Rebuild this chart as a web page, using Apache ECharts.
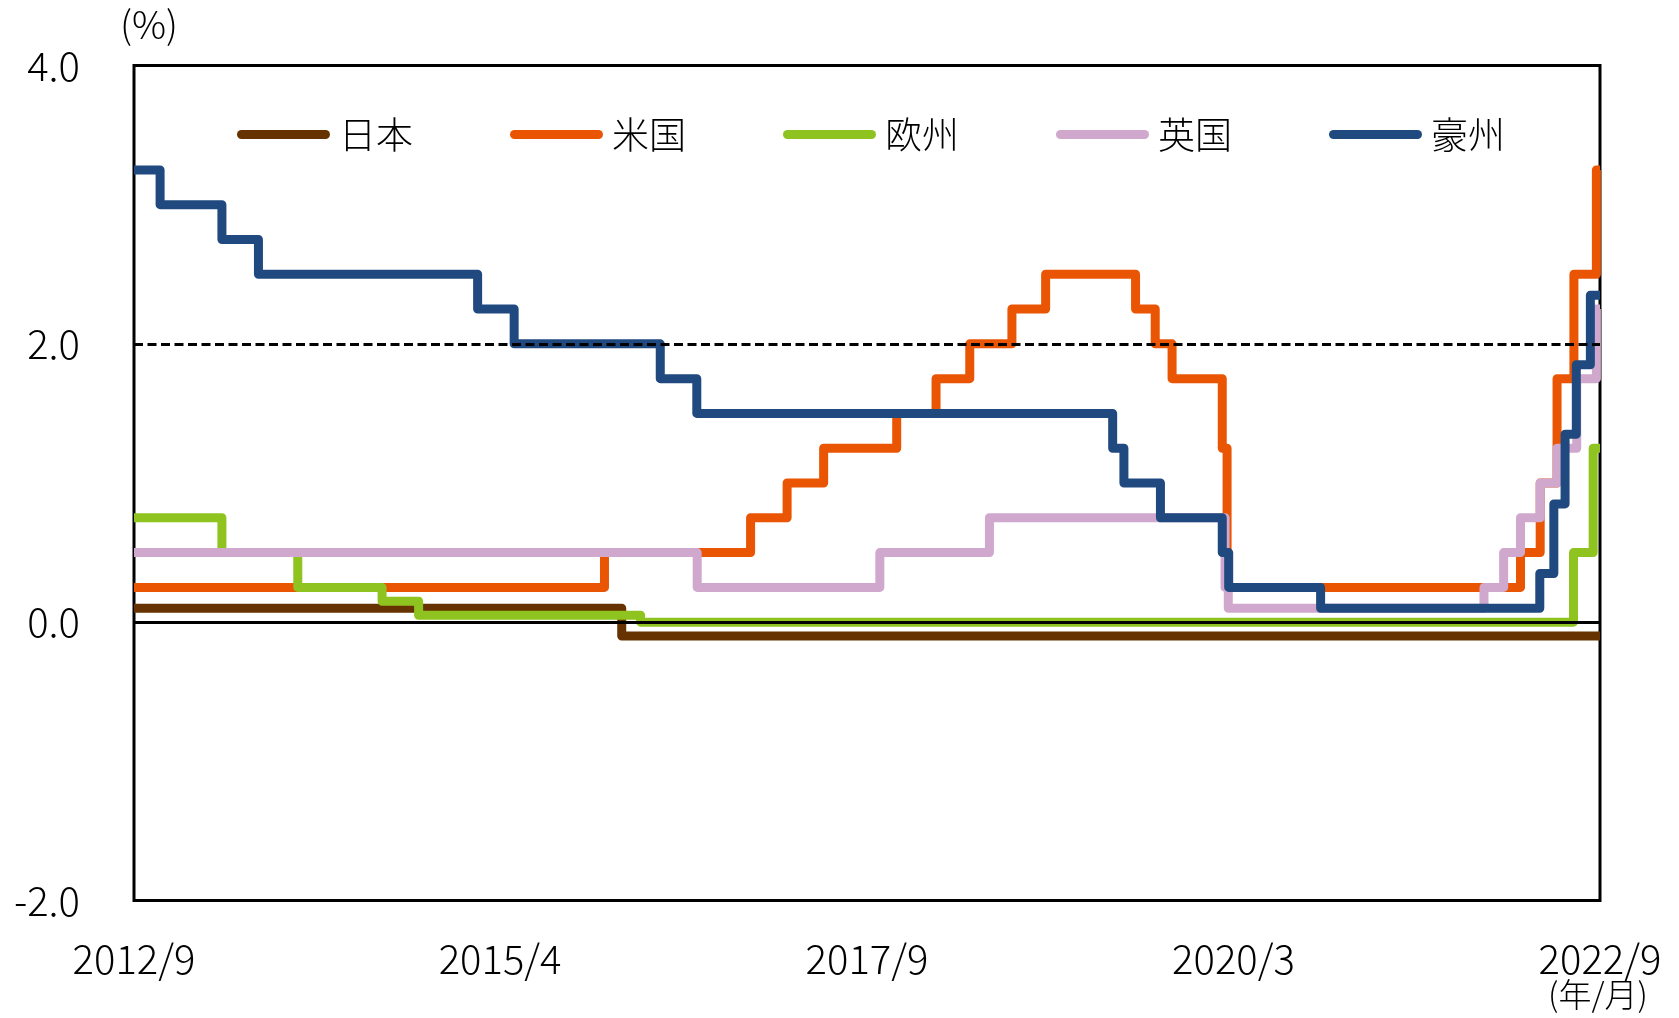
<!DOCTYPE html>
<html>
<head>
<meta charset="utf-8">
<script src="https://cdn.jsdelivr.net/npm/echarts@6/dist/echarts.min.js"></script>
<style>
  html, body { margin: 0; padding: 0; background: #fff; }
  #chart { width: 1679px; height: 1018px; }
</style>
</head>
<body>
<div id="chart"></div>
<script>
// Policy rates (%), each list holds [date the rate took effect, rate]
const JAPAN = [["2012-10-01", 0.1], ["2016-01-29", -0.1], ["2022-10-01", -0.1]];
const USA = [["2012-10-01", 0.25], ["2015-12-17", 0.5], ["2016-12-15", 0.75], ["2017-03-16", 1.0],
  ["2017-06-15", 1.25], ["2017-12-14", 1.5], ["2018-03-22", 1.75], ["2018-06-14", 2.0],
  ["2018-09-27", 2.25], ["2018-12-20", 2.5], ["2019-08-01", 2.25], ["2019-09-19", 2.0],
  ["2019-10-31", 1.75], ["2020-03-04", 1.25], ["2020-03-16", 0.25], ["2022-03-17", 0.5],
  ["2022-05-05", 1.0], ["2022-06-16", 1.75], ["2022-07-28", 2.5], ["2022-09-22", 3.25],
  ["2022-10-01", 3.25]];
const EURO = [["2012-10-01", 0.75], ["2013-05-08", 0.5], ["2013-11-13", 0.25], ["2014-06-11", 0.15],
  ["2014-09-10", 0.05], ["2016-03-16", 0.0], ["2022-07-27", 0.5], ["2022-09-14", 1.25],
  ["2022-10-01", 1.25]];
const UK = [["2012-10-01", 0.5], ["2016-08-04", 0.25], ["2017-11-02", 0.5], ["2018-08-02", 0.75],
  ["2020-03-11", 0.25], ["2020-03-19", 0.1], ["2021-12-16", 0.25], ["2022-02-03", 0.5],
  ["2022-03-17", 0.75], ["2022-05-05", 1.0], ["2022-06-16", 1.25], ["2022-08-04", 1.75],
  ["2022-09-22", 2.25], ["2022-10-01", 2.25]];
const AUSTRALIA = [["2012-10-01", 3.25], ["2012-12-05", 3.0], ["2013-05-08", 2.75], ["2013-08-07", 2.5],
  ["2015-02-04", 2.25], ["2015-05-06", 2.0], ["2016-05-04", 1.75], ["2016-08-03", 1.5],
  ["2019-06-05", 1.25], ["2019-07-03", 1.0], ["2019-10-02", 0.75], ["2020-03-04", 0.5],
  ["2020-03-20", 0.25], ["2020-11-04", 0.1], ["2022-05-04", 0.35], ["2022-06-08", 0.85],
  ["2022-07-06", 1.35], ["2022-08-03", 1.85], ["2022-09-07", 2.35], ["2022-10-01", 2.35]];

const SERIES_NAMES = ["日本", "米国", "欧州", "英国", "豪州"];
const SERIES_COLORS = ["#663300", "#EA5504", "#8FC31F", "#D0A7CD", "#204A7F"];
const SERIES_DATA = [JAPAN, USA, EURO, UK, AUSTRALIA];

// x-axis ticks: where each label sits, and the text shown there
const TICK_DATES = ["2012-10-01", "2015-04-01", "2017-10-01", "2020-04-01", "2022-10-01"];
const TICK_LABELS = ["2012/9", "2015/4", "2017/9", "2020/3", "2022/9"];

const FONT = '"Noto Sans CJK JP", "Noto Sans", sans-serif';
const WEIGHT = 300;
const DAY = 86400000;
const toTime = d => echarts.time.parse(d).getTime();
const tickTimes = TICK_DATES.map(toTime);

const chart = echarts.init(document.getElementById("chart"), null, { renderer: "canvas" });

const series = SERIES_NAMES.map((name, i) => {
  const s = {
    name: name,
    type: "line",
    step: "end",
    data: SERIES_DATA[i].map(([d, v]) => [toTime(d), v]),
    symbol: "none",
    showSymbol: false,
    color: SERIES_COLORS[i],
    lineStyle: { width: 9, color: SERIES_COLORS[i], join: "round", cap: "butt" },
    animation: false,
    silent: true
  };
  if (i === 0) {
    // reference lines: solid zero line and dashed 2% line
    s.markLine = {
      silent: true,
      symbol: "none",
      label: { show: false },
      animation: false,
      data: [
        { yAxis: 0, lineStyle: { color: "#000", width: 2.8, type: "solid" } },
        { yAxis: 2, lineStyle: { color: "#000", width: 2.8, type: [9, 4.5] } }
      ]
    };
  }
  return s;
});

const legendIcon = "path://M4.5,0H88.5A4.5,4.5,0,0,1,88.5,9H4.5A4.5,4.5,0,0,1,4.5,0Z";

chart.setOption({
  backgroundColor: "#fff",
  animation: false,
  textStyle: { fontFamily: FONT, fontWeight: WEIGHT },
  grid: {
    left: 134, right: 79, top: 65.5, bottom: 117.5,
    show: true, borderColor: "#000", borderWidth: 3, backgroundColor: "transparent"
  },
  legend: {
    data: SERIES_NAMES,
    left: 237, top: 116, padding: 0,
    itemWidth: 93, itemHeight: 9, itemGap: 97,
    icon: legendIcon,
    textStyle: { fontFamily: FONT, fontWeight: WEIGHT, fontSize: 37, color: "#000", lineHeight: 37, padding: [0, 0, 0, 4] },
    selectedMode: false
  },
  xAxis: {
    type: "value",
    min: tickTimes[0],
    max: tickTimes[tickTimes.length - 1],
    axisLine: { show: false },
    axisTick: { show: false },
    splitLine: { show: false },
    axisLabel: {
      customValues: tickTimes,
      margin: 38,
      fontSize: 40,
      color: "#000",
      fontFamily: FONT,
      fontWeight: WEIGHT,
      showMinLabel: true,
      showMaxLabel: true,
      hideOverlap: false,
      formatter: function (value) {
        const k = tickTimes.findIndex(t => Math.abs(t - value) < DAY);
        return k >= 0 ? TICK_LABELS[k] : "";
      }
    }
  },
  yAxis: {
    type: "value",
    min: -2, max: 4, interval: 2,
    axisLine: { show: false },
    axisTick: { show: false },
    splitLine: { show: false },
    axisLabel: {
      margin: 54, fontSize: 40, color: "#000", fontFamily: FONT, fontWeight: WEIGHT,
      formatter: v => v.toFixed(1)
    }
  },
  graphic: [
    { type: "text", left: 120, top: 6,
      style: { text: "(%)", font: WEIGHT + ' 38px ' + FONT, fill: "#000" } },
    { type: "text", left: 1548, top: 978,
      style: { text: "(年/月)", font: WEIGHT + ' 33px ' + FONT, fill: "#000" } }
  ],
  series: series
});
</script>
</body>
</html>
